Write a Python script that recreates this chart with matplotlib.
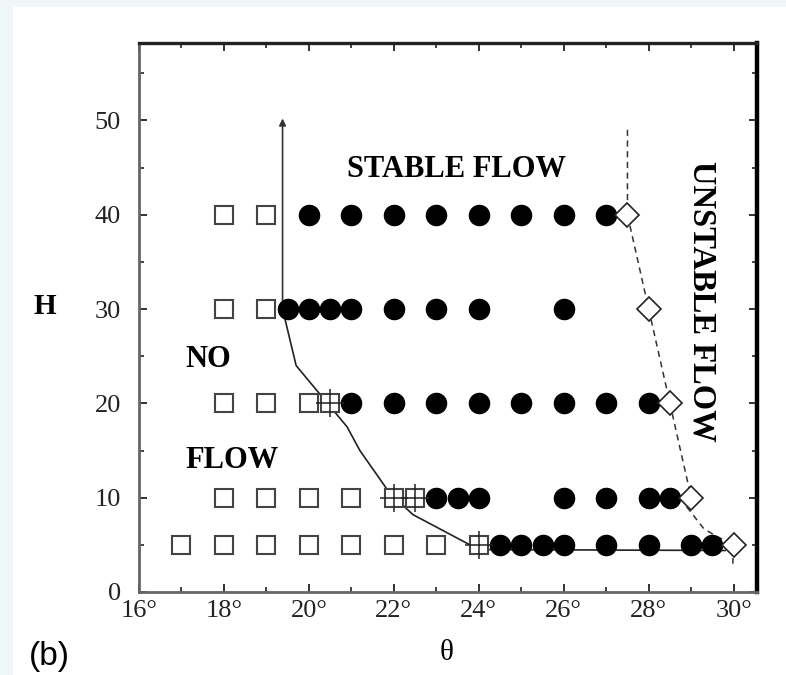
import numpy as np
import matplotlib.pyplot as plt
from matplotlib.patches import Rectangle
from matplotlib.ticker import MultipleLocator, FixedLocator

# no flow (open squares)
sq_theta = [18, 19, 18, 19, 18, 19, 20, 20.5, 18, 19, 20, 21, 22, 22.5,
            17, 18, 19, 20, 21, 22, 23, 24]
sq_h = [40, 40, 30, 30, 20, 20, 20, 20, 10, 10, 10, 10, 10, 10,
        5, 5, 5, 5, 5, 5, 5, 5]

# stable flow (filled circles)
ci_theta = [20, 21, 22, 23, 24, 25, 26, 27,
            19.5, 20, 20.5, 21, 22, 23, 24, 26,
            21, 22, 23, 24, 25, 26, 27, 28,
            23, 23.5, 24, 26, 27, 28, 28.5,
            24.5, 25, 25.5, 26, 27, 28, 29, 29.5]
ci_h = [40]*8 + [30]*8 + [20]*8 + [10]*7 + [5]*8

# transition points (+)
pl_theta = [20.5, 22, 22.5, 24]
pl_h = [20, 10, 10, 5]

# unstable boundary (diamonds + dashed line)
di_theta = [27.5, 28, 28.5, 29, 30]
di_h = [40, 30, 20, 10, 5]
dash_theta = [27.5, 27.5, 28, 28.5, 29, 28.9, 29.3, 29.6, 30, 29.98]
dash_h = [49, 40, 30, 20, 10, 9.0, 6.7, 5.9, 5, 3.0]

# no flow boundary (solid line)
solid_theta = [19.38, 19.7, 20.9, 21.2, 21.9, 22.45, 24, 29.8]
solid_h = [30, 24, 17.5, 15, 10.5, 8.2, 4.5, 4.4]

plt.rcParams['font.family'] = ['Liberation Serif', 'DejaVu Serif']

fig = plt.figure(figsize=(7.86, 6.75), dpi=100)
fig.patch.set_facecolor('#f0f7f9')
fig.patches.append(Rectangle((13/786, 0), 1, 1 - 7/675, transform=fig.transFigure,
                             facecolor='white', edgecolor='none', zorder=-10))

ax = fig.add_axes([139/786, 1 - 592/675, (757 - 139)/786, (592 - 43)/675])
ax.set_zorder(5)

ax.plot(solid_theta, solid_h, color='#222222', lw=1.2, zorder=2)
ax.annotate('', xy=(19.38, 50.2), xytext=(19.38, 30),
            arrowprops=dict(arrowstyle='-|>', color='#333333', lw=1.2,
                            mutation_scale=10, shrinkA=0, shrinkB=0), zorder=2)
ax.plot(dash_theta, dash_h, color='#333333', lw=1.1, ls=(0, (4, 3)), zorder=2)

ax.plot(sq_theta, sq_h, 's', ms=13.5, mfc='white', mec='#444444', mew=1.5,
        ls='none', zorder=3)
ax.plot(ci_theta, ci_h, 'o', ms=14.5, mfc='black', mec='black', ls='none', zorder=4)
ax.plot(pl_theta, pl_h, '+', ms=20, mec='#222222', mew=1.1, ls='none', zorder=5)
ax.plot(di_theta, di_h, 'D', ms=12, mfc='white', mec='#222222', mew=1.2,
        ls='none', zorder=5)

ax.text(23.47, 44.8, 'STABLE FLOW', fontsize=22, fontweight='bold',
        ha='center', va='center')
ax.text(17.62, 24.7, 'NO', fontsize=22, fontweight='bold', ha='center', va='center')
ax.text(18.2, 13.9, 'FLOW', fontsize=22, fontweight='bold', ha='center', va='center')
ax.text(29.26, 30.8, 'UNSTABLE FLOW', fontsize=23.5, fontweight='bold',
        rotation=-90, ha='center', va='center')

ax.set_xlim(16, 30.55)
ax.set_ylim(0, 58.2)

xt = [16, 18, 20, 22, 24, 26, 28, 30]
ax.xaxis.set_major_locator(FixedLocator(xt))
ax.set_xticklabels([f'{t}°' for t in xt])
ax.xaxis.set_minor_locator(MultipleLocator(1))
ax.yaxis.set_major_locator(MultipleLocator(10))
ax.yaxis.set_minor_locator(MultipleLocator(5))
ax.tick_params(which='both', direction='in', top=True, right=True,
               labelsize=19, colors='#222222')
ax.tick_params(which='major', length=6, width=1.3)
ax.tick_params(which='minor', length=3.5, width=1.2)
ax.tick_params(axis='y', which='major', pad=13)
ax.tick_params(axis='x', which='major', pad=6)

for side, w, c in [('left', 2.0, '#666666'), ('bottom', 2.0, '#666666'),
                   ('top', 2.4, '#222222'), ('right', 3.2, 'black')]:
    ax.spines[side].set_linewidth(w)
    ax.spines[side].set_color(c)

fig.text(447/786, 1 - 653/675, 'θ', fontsize=21, ha='center', va='center')
fig.text(45/786, 1 - 307/675, 'H', fontsize=21, fontweight='bold',
         ha='center', va='center')
fig.text(49/786, 1 - 657/675, '(b)', fontsize=24, family='Liberation Sans',
         ha='center', va='center')

fig.savefig('out.png', dpi=100, facecolor=fig.get_facecolor())
